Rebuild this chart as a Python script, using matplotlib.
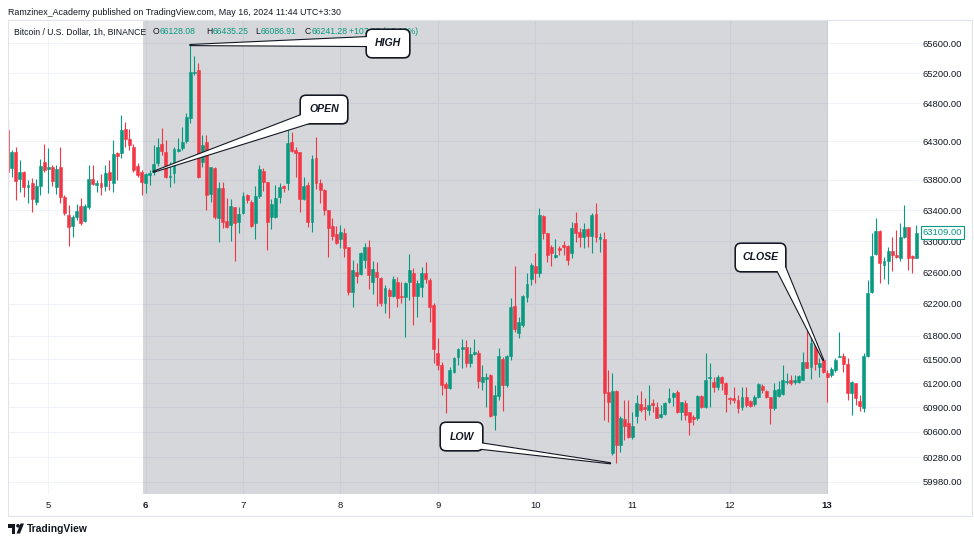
import matplotlib
matplotlib.use('Agg')
import matplotlib.pyplot as plt
from matplotlib.patches import FancyBboxPatch, Polygon, Rectangle, Circle
from matplotlib.transforms import IdentityTransform, blended_transform_factory
from matplotlib.ticker import NullLocator
import numpy as np

# ---------------- data (BTC/USD 1h, Binance) ----------------
opens = [64449,63947,64164,63804,63903,63699,63760,63512,63716,64026,63934,63968,63708,63968,63569,63340,63199,63310,63457,63267,
         63448,63808,63725,63752,63716,63903,63752,64151,64143,64458,64327,64229,63977,63903,63752,63860,63903,64013,64261,64164,
         63830,63882,64173,64208,64309,64603,65203,65243,64034,64296,63612,63947,63305,63694,63267,63211,63440,63254,63362,63599,
         63512,63233,63586,63916,63773,63318,63318,63569,63716,63752,64296,64186,64156,63547,63730,63254,64078,63760,63664,63405,
         63202,63095,63027,63104,62924,62356,62604,62582,62761,62924,62483,62611,62535,62217,62378,62302,62483,62302,62285,62483,
         62598,62306,62420,62591,62505,62187,61576,61430,61188,61146,61346,61527,61634,61660,61451,61568,61576,61221,61258,61305,
         60806,61046,61501,61180,61543,62175,61828,61934,62293,62514,62688,62598,63327,63104,62924,62803,62911,62953,62940,62847,
         63233,63125,63060,63156,63069,63349,63035,63027,61096,60330,61108,60435,60753,60711,60530,60794,60942,60909,60868,60951,
         60909,60777,60818,60963,61026,61096,60847,60958,60847,60785,60765,61042,60909,61271,61213,61159,61283,61208,61021,61013,
         60992,60901,61034,60980,60942,61026,61171,61108,61026,60889,61042,61067,61213,61242,61213,61221,61242,61472,61405,61710,
         61401,61493,61333,61305,61367,61535,61543,61443,61083,61200,60983,60889,61543,62356,62834,63138,62697,62752,62876,62825,
         62782,63060,63181,62812,62790]
highs = [64581,64186,64221,64056,63916,63795,63821,63808,64069,64261,64208,63990,63990,64229,63599,63470,63340,63482,63556,63482,
         63990,63990,63795,63873,63990,64056,64318,64164,64647,64559,64458,64261,64013,63925,63890,63925,64252,64348,64471,64318,
         64034,64229,64340,64484,64669,65577,65430,65333,64383,64383,63968,63968,63773,63773,63556,63543,63448,63440,63642,63612,
         63534,63716,63990,63955,63773,63543,63730,63760,63730,64449,64427,64229,64164,63838,63773,64121,64353,63804,63673,63405,
         63298,63199,63211,63169,62932,62761,62726,62867,62983,63018,62752,62739,62548,62441,62400,62560,62548,62483,62483,62838,
         62655,62505,62668,62739,62527,62217,61765,61472,61221,61401,61527,61639,61753,61744,61660,61753,61618,61430,61325,61317,
         61180,61639,61527,61555,62273,62684,62039,62315,62591,62718,62847,63435,63340,63112,62953,63027,62940,63005,62953,63254,
         63379,63169,63233,63169,63362,63491,63112,63125,61367,61325,61117,60794,60992,60992,60847,61055,61108,61013,61180,61001,
         60971,60930,60971,61138,61096,61117,60971,60992,60847,60806,61055,61055,61576,61451,61283,61305,61292,61221,61034,61159,
         61055,61159,61159,60992,61055,61200,61192,61117,61034,61200,61233,61430,61325,61305,61305,61305,61597,61934,61782,61723,
         61514,61501,61367,61401,61514,61849,61576,61514,61229,61208,61055,61576,62505,63112,63298,63147,62803,62932,63060,63147,
         63233,63470,63189,62825,63211]
lows = [63730,63838,63534,63642,63577,63495,63383,63470,63599,63903,63629,63716,63608,63491,63340,62944,63060,63276,63211,63254,
        63414,63730,63642,63599,63655,63664,63642,63795,64078,64229,64186,63903,63838,63599,63621,63730,63860,63977,64121,63817,
        63699,63760,64164,64186,64274,64537,65177,63817,63968,63405,63512,63285,62996,63169,63169,63009,62752,63104,63353,63491,
        63189,63027,63556,63655,62889,63156,63298,63491,63642,63664,64164,63838,63383,63534,63189,63125,63673,63499,63340,62803,
        63018,62962,62911,62803,62315,62158,62471,62569,62655,62387,62327,62175,62175,62090,62026,62293,62166,62209,61786,62251,
        61934,62039,62293,62463,61976,61451,61367,61055,60827,61126,61325,61430,61388,61401,61409,61555,61138,61117,60901,60785,
        60620,60992,60859,61159,61493,61849,61765,61913,62230,62441,62471,62540,63027,62739,62684,62782,62825,62825,62697,62782,
        62996,62932,62911,62932,62847,62996,62867,60744,60723,60315,60209,60348,60497,60518,60510,60703,60847,60744,60806,60847,
        60765,60765,60806,60951,60921,60834,60744,60744,60558,60682,60744,60889,60889,60909,61096,61117,61117,60847,60942,60951,
        60827,60868,60909,60909,60917,61013,61076,61013,60694,60868,61034,61055,61192,61180,61192,61200,61242,61388,61248,61367,
        61276,61333,60971,61283,61346,61527,61346,60992,60806,60930,60859,60847,61535,62344,62825,62463,62514,62454,62624,62782,
        62752,63039,62633,62591,62790]
closes = [63903,64164,63786,63903,63699,63725,63543,63716,63981,63925,63960,63786,63938,63577,63362,63189,63318,63396,63233,63457,
          63804,63739,63760,63708,63882,63795,64130,64108,64449,64327,64252,63925,63860,63773,63873,63890,64004,64221,64173,63830,
          63847,64195,64195,64296,64617,65212,65220,63830,64252,63599,63960,63318,63694,63254,63189,63457,63241,63353,63586,63534,
          63199,63586,63934,63765,63254,63479,63564,63708,63694,64283,64177,64143,63543,63721,63254,64065,63760,63664,63405,63169,
          63073,62983,63125,62911,62356,62633,62560,62847,62924,62569,62642,62540,62209,62400,62306,62518,62273,62285,62463,62633,
          62302,62463,62591,62514,62166,61631,61430,61180,61146,61367,61514,61627,61660,61451,61568,61589,61233,61276,61283,60794,
          61055,61543,61180,61543,62166,61879,61976,62302,62450,62697,62598,63340,63104,62825,62854,62821,62889,62932,62761,63177,
          63112,63060,63156,63069,63340,63060,63052,61076,60971,61108,60435,60765,60670,60530,60670,60958,60868,60876,60930,60926,
          60772,60818,60958,61013,61083,60847,60971,60806,60723,60753,61042,60909,61242,61283,61159,61283,61208,61067,61001,60992,
          60889,61026,60930,60921,61034,61192,61117,61026,60889,61117,61126,61242,61229,61200,61242,61292,61472,61396,61702,61443,
          61459,61346,61283,61376,61493,61547,61443,61083,61221,61013,60917,61543,62344,62816,63138,62726,62752,62876,62825,62803,
          63060,63189,62782,62790,63109]

day_labels = ['5', '6', '7', '8', '9', '10', '11', '12', '13']
day_positions = [10, 34, 58, 82, 106, 130, 154, 178, 202]      # candle index at 00:00
bold_days = ['6', '13']
price_ticks = [59980, 60280, 60600, 60900, 61200, 61500, 61800, 62200,
               62600, 63000, 63400, 63800, 64300, 64800, 65200, 65600]
last_price = 63109.00
range_start, range_end = 33.4, 202.1                           # selected date range (candle index)

title = 'Ramzinex_Academy published on TradingView.com, May 16, 2024 11:44 UTC+3:30'
symbol_text = 'Bitcoin / U.S. Dollar, 1h, BINANCE'
ohlc_header = [('O', '66128.08'), ('H', '66435.25'), ('L', '66086.91'), ('C', '66241.28')]
change_text = '+107.08 (+0.16%)'

# ---------------- style ----------------
UP, DOWN = '#089981', '#f23645'
TXT = '#131722'
FONT = 'Liberation Sans'
plt.rcParams['font.family'] = [FONT, 'DejaVu Sans']

W, H = 974, 543
fig = plt.figure(figsize=(W / 100, H / 100), dpi=100)
fig.patch.set_facecolor('white')
ax = fig.add_axes([8 / W, 1 - 494 / H, 912 / W, 474 / H])
ax.set_facecolor('white')

ax.set_yscale('log')
ax.set_xlim(0.074, 224.87)
ax.set_ylim(59832, 65913)
ax.yaxis.set_minor_locator(NullLocator())
ax.xaxis.set_minor_locator(NullLocator())
ax.set_yticks(price_ticks)
ax.set_yticklabels([f'{p:.2f}' for p in price_ticks])
ax.yaxis.tick_right()
ax.tick_params(axis='y', length=0, pad=1.8, labelsize=6.8, labelcolor=TXT)
ax.set_xticks(day_positions)
ax.set_xticklabels(day_labels)
ax.tick_params(axis='x', length=0, pad=5, labelsize=6.8, labelcolor=TXT)
for lbl in ax.get_xticklabels():
    if lbl.get_text() in bold_days:
        lbl.set_fontweight('bold')
ax.grid(True, color='#f0f3fa', lw=0.8)
ax.set_axisbelow(True)
for s in ax.spines.values():
    s.set_visible(False)

# selected range shading
ax.axvspan(range_start, range_end, color='#787b86', alpha=0.3, lw=0, zorder=1)

# candles
o = np.array(opens, float); h = np.array(highs, float)
l = np.array(lows, float); c = np.array(closes, float)
idx = np.arange(len(c))
cols = np.where(c >= o, UP, DOWN)
ax.vlines(idx, np.minimum(l, np.minimum(o, c)), np.maximum(h, np.maximum(o, c)),
          colors=cols, lw=0.8, zorder=2)
ax.bar(idx, np.abs(c - o), bottom=np.minimum(o, c), width=0.72, color=cols,
       edgecolor=cols, lw=0.4, zorder=3)

# last price label
trans = blended_transform_factory(ax.transAxes, ax.transData)
ax.text(1.0 + 2.5 / 912, last_price, f'{last_price:.2f}', transform=trans, ha='left', va='center',
        fontsize=6.8, color=UP, zorder=10, clip_on=False,
        bbox=dict(boxstyle='square,pad=0.2', fc='white', ec=UP, lw=0.8))

# texts
def ftext(x, y, s, **kw):
    fig.text(x / W, 1 - y / H, s, va='center', **kw)

ftext(8, 12.5, title, fontsize=6.4, color=TXT)
ftext(14, 32, symbol_text, fontsize=6.2, color=TXT)
hx = [(153, 160), (206, 213), (255, 261), (305, 312)]
for (k, v), (xk, xv) in zip(ohlc_header, hx):
    ftext(xk, 32, k, fontsize=6.2, color=TXT)
    ftext(xv, 32, v, fontsize=6.2, color=UP)
ftext(349, 32, change_text, fontsize=6.2, color=UP)

# outer frame
fig.add_artist(Rectangle((7.5, H - 515.5), 964, 495.5, transform=IdentityTransform(),
                         fill=False, ec='#e0e3eb', lw=0.8, zorder=4))

# callouts
def disp(xd, yd):
    return ax.transData.transform((xd, yd))

def callout(label, left, top, w, h, apex, base):
    y0 = H - top - h
    b = [(bx, H - by) for bx, by in base]
    pts = [tuple(apex), b[0], b[1]]
    it = IdentityTransform()
    fig.add_artist(FancyBboxPatch((left + 1.5, y0 - 1.5), w, h, boxstyle='round,pad=0,rounding_size=5',
                                  transform=it, fc='#000000', alpha=0.25, lw=0, zorder=20))
    fig.add_artist(FancyBboxPatch((left, y0), w, h, boxstyle='round,pad=0,rounding_size=5',
                                  transform=it, fc='none', ec=TXT, lw=2.3, zorder=21))
    fig.add_artist(Polygon(pts, closed=True, transform=it, fc='none', ec=TXT, lw=1.6,
                           joinstyle='round', zorder=21))
    fig.add_artist(FancyBboxPatch((left, y0), w, h, boxstyle='round,pad=0,rounding_size=5',
                                  transform=it, fc='white', lw=0, zorder=22))
    fig.add_artist(Polygon(pts, closed=True, transform=it, fc='white', lw=0, zorder=22))
    fig.text((left + w / 2) / W, (y0 + h / 2) / H, label, ha='center', va='center',
             fontsize=7.6, fontweight='bold', fontstyle='italic', color=TXT, zorder=23)

i_high = int(np.argmax(h))
i_low = int(np.argmin(l))
callout('HIGH', 367, 30, 42, 27, disp(i_high, h[i_high]), [(370, 37), (370, 46)])
callout('OPEN', 301, 96, 46, 27, disp(36, o[36]), [(304, 114), (316, 121)])
callout('CLOSE', 736, 244, 49, 27, disp(201, o[201]), [(776, 268), (783, 262)])
callout('LOW', 441, 423, 41, 27, disp(i_low - 1.5, l[i_low]), [(479, 443), (474, 448)])

# TradingView logo
it = IdentityTransform()
fig.add_artist(Rectangle((8, H - 527.5), 7, 3.5, transform=it, fc=TXT, lw=0, zorder=5))
fig.add_artist(Rectangle((11.5, H - 533.5), 3.5, 10, transform=it, fc=TXT, lw=0, zorder=5))
fig.add_artist(Circle((18, H - 525.8), 1.8, transform=it, fc=TXT, lw=0, zorder=5))
fig.add_artist(Polygon([(16.5, H - 533.5), (20.5, H - 523.5), (24, H - 523.5), (20, H - 533.5)],
                       transform=it, fc=TXT, lw=0, zorder=5))
ftext(27, 529, 'TradingView', fontsize=7.4, color=TXT, fontweight='semibold')

fig.savefig('out.png', dpi=100, facecolor='white')
